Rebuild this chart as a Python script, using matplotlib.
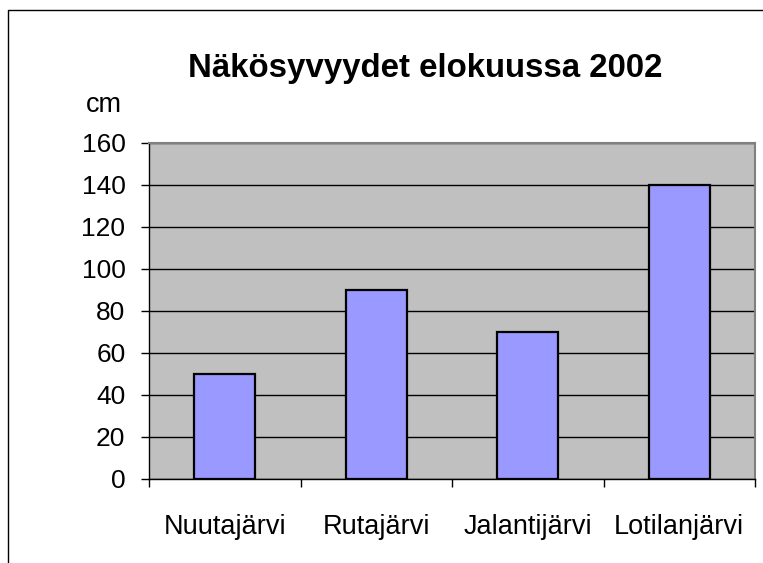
import numpy as np
import matplotlib
matplotlib.use("Agg")
import matplotlib.pyplot as plt
from matplotlib.lines import Line2D

# -----------------------------------------------------------------------------
# Data
# -----------------------------------------------------------------------------

LAKES  = ["Nuutajärvi", "Rutajärvi", "Jalantijärvi", "Lotilanjärvi"]
DEPTHS = [50, 90, 70, 140]
YTICKS = [0, 20, 40, 60, 80, 100, 120, 140, 160]

TITLE  = "Näkösyvyydet elokuussa 2002"
UNIT   = "cm"

BAR_COLOR  = "#9999FF"
PLOT_COLOR = "#C0C0C0"

# -----------------------------------------------------------------------------
# Chart
# -----------------------------------------------------------------------------

plt.rcParams["font.family"] = ["Liberation Sans", "DejaVu Sans"]

W, H = 763, 563
fig = plt.figure(figsize=(W / 100, H / 100), dpi=100)
ax = fig.add_axes([149 / W, 1 - 479 / H, (755 - 149) / W, (479 - 143) / H])
ax.set_facecolor(PLOT_COLOR)

x = np.arange(len(LAKES))
ax.bar(x, DEPTHS, width=0.40, color=BAR_COLOR, edgecolor="black",
       linewidth=1.6, zorder=3)

ax.set_xlim(-0.5, len(LAKES) - 0.5)
ax.set_ylim(0, 160)
ax.set_yticks(YTICKS)
ax.yaxis.grid(True, color="black", linewidth=1.0, zorder=1)
ax.set_axisbelow(True)

# category labels at centres, tick marks at boundaries
ax.set_xticks(x)
ax.set_xticklabels(LAKES)
ax.set_xticks(np.arange(-0.5, len(LAKES)), minor=True)
ax.tick_params(axis="x", which="major", length=0, pad=25, labelsize=19.5)
ax.tick_params(axis="x", which="minor", length=6, width=1, color="black",
               direction="out")
ax.tick_params(axis="y", length=6, width=1, pad=11, labelsize=19)

for side in ("top", "right"):
    ax.spines[side].set_color("#808080")
    ax.spines[side].set_linewidth(1.5)
for side in ("left", "bottom"):
    ax.spines[side].set_color("black")
    ax.spines[side].set_linewidth(1.0)

fig.text(425 / W, 1 - 68 / H, TITLE, ha="center", va="center",
         fontsize=23.8, fontweight="bold")
fig.text(86 / W, 1 - 105 / H, UNIT, ha="left", va="center", fontsize=19.5)

# outer chart border (only left and top are inside the crop)
fig.add_artist(Line2D([8 / W, 8 / W, 1.0], [0.0, 1 - 10 / H, 1 - 10 / H],
                      transform=fig.transFigure, color="black", linewidth=1.0))

fig.savefig("out.png", dpi=100)
plt.close(fig)
